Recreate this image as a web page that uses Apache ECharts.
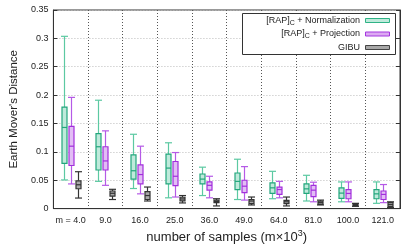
<!DOCTYPE html>
<html>
<head>
<meta charset="utf-8">
<script src="https://cdn.jsdelivr.net/npm/echarts@6/dist/echarts.min.js"></script>
<style>
html,body{margin:0;padding:0;background:#fff;}
#c{width:415px;height:249px;}
</style>
</head>
<body>
<div id="c"></div>
<script>
const categories = ['m = 4.0','9.0','16.0','25.0','36.0','49.0','64.0','81.0','100.0','121.0'];
const yTicks = [0,0.05,0.1,0.15,0.2,0.25,0.3,0.35];
// [lowWhisker, q1, median, q3, highWhisker]
const normData = [
 [0.0505,0.0796,0.143,0.179,0.3036],
 [0.048,0.068,0.109,0.132,0.191],
 [0.0354,0.052,0.0667,0.0946,0.131],
 [0.019,0.0435,0.0714,0.096,0.116],
 [0.023,0.0436,0.052,0.061,0.073],
 [0.016,0.0336,0.048,0.0627,0.087],
 [0.0174,0.0267,0.0366,0.0453,0.0657],
 [0.0134,0.0267,0.0348,0.0436,0.0587],
 [0.012,0.018,0.0273,0.0366,0.047],
 [0.0093,0.0174,0.026,0.0336,0.047]
];
const projData = [
 [0.0435,0.076,0.11,0.145,0.196],
 [0.041,0.068,0.084,0.109,0.137],
 [0.026,0.0435,0.06,0.077,0.11],
 [0.0204,0.0406,0.057,0.083,0.0988],
 [0.019,0.0325,0.041,0.047,0.057],
 [0.015,0.028,0.0395,0.05,0.074],
 [0.019,0.025,0.0336,0.038,0.048],
 [0.012,0.021,0.0325,0.041,0.0465],
 [0.012,0.0174,0.0267,0.0336,0.047],
 [0.0105,0.016,0.025,0.031,0.0424]
];
const gibuData = [
 [0.0186,0.035,0.042,0.049,0.065],
 [0.016,0.022,0.027,0.031,0.034],
 [0.0134,0.016,0.023,0.03,0.038],
 [0.01,0.0135,0.017,0.02,0.023],
 [0.0047,0.0105,0.0127,0.015,0.0174],
 [0.0064,0.0087,0.0134,0.016,0.0204],
 [0.0047,0.0087,0.012,0.0145,0.0204],
 [0.0064,0.0076,0.0105,0.013,0.015],
 [0.004,0.0052,0.007,0.009,0.0093],
 [0.0017,0.0035,0.007,0.0105,0.012]
];

const FONT = '"Liberation Sans", Arial, Helvetica, sans-serif';

function makeRender(offsetFrac, stroke, whisk, fill) {
  return function (params, api) {
    const idx = api.value(0);
    const band = api.size([1, 0])[0];
    const xc = Math.round(api.coord([idx, 0])[0] + offsetFrac * band) + 0.5;
    const y = k => api.coord([idx, api.value(k)])[1];
    const yLo = y(1), yQ1 = y(2), yMed = y(3), yQ3 = y(4), yHi = y(5);
    const bw = Math.round(band * 0.13);
    const cw = Math.round(band * 0.21);
    const ls = {stroke: whisk, lineWidth: 1.2};
    const bs = {stroke: stroke, lineWidth: 1.2};
    return {type: 'group', children: [
      {type: 'line', shape: {x1: xc, y1: yHi, x2: xc, y2: yQ3}, style: ls},
      {type: 'line', shape: {x1: xc, y1: yQ1, x2: xc, y2: yLo}, style: ls},
      {type: 'line', shape: {x1: xc - cw/2, y1: yHi, x2: xc + cw/2, y2: yHi}, style: ls},
      {type: 'line', shape: {x1: xc - cw/2, y1: yLo, x2: xc + cw/2, y2: yLo}, style: ls},
      {type: 'rect', shape: {x: xc - bw/2, y: yQ3, width: bw, height: yQ1 - yQ3}, style: {fill: fill, stroke: stroke, lineWidth: 1.2}},
      {type: 'line', shape: {x1: xc - bw/2, y1: yMed, x2: xc + bw/2, y2: yMed}, style: bs}
    ]};
  };
}

function mkSeries(data, off, stroke, whisk, fill) {
  return {
    type: 'custom',
    renderItem: makeRender(off, stroke, whisk, fill),
    encode: {x: 0, y: [1, 2, 3, 4, 5]},
    data: data.map((d, i) => [i].concat(d)),
    z: 5
  };
}

const chart = echarts.init(document.getElementById('c'), null, {renderer: 'canvas'});
chart.setOption({
  animation: false,
  textStyle: {fontFamily: FONT},
  grid: {left: 48, right: 15, top: 10, bottom: 38, show: true, borderColor: '#333', borderWidth: 1, backgroundColor: 'transparent'},
  xAxis: {
    type: 'category',
    data: categories,
    boundaryGap: true,
    axisLine: {lineStyle: {color: '#333'}},
    axisTick: {show: false},
    axisLabel: {color: '#222', fontSize: 9, margin: 7, fontFamily: FONT, interval: 0},
    splitLine: {show: true, interval: 0, lineStyle: {color: '#555', type: [1, 2], width: 1}},
    name: 'number of samples (m×10{sup|3})',
    nameLocation: 'middle',
    nameGap: 14,
    nameTextStyle: {fontSize: 13, color: '#222', fontFamily: FONT, rich: {sup: {fontSize: 9, verticalAlign: 'top', padding: [0,0,7,0], fontFamily: FONT, color: '#222'}}}
  },
  yAxis: [{
    type: 'value',
    min: 0, max: 0.35, interval: 0.05,
    axisLine: {show: true, lineStyle: {color: '#333'}},
    axisTick: {show: true, inside: true, length: 4, lineStyle: {color: '#333'}},
    axisLabel: {color: '#222', fontSize: 9, margin: 5, fontFamily: FONT, formatter: v => String(+v.toFixed(2))},
    splitLine: {show: true, lineStyle: {color: '#bbb', type: [1, 2], width: 1}},
    name: "Earth Mover's Distance",
    nameLocation: 'middle',
    nameGap: 29,
    nameTextStyle: {fontSize: 11.5, color: '#222', fontFamily: FONT}
  }, {
    type: 'value',
    position: 'right',
    min: 0, max: 0.35, interval: 0.05,
    axisLine: {show: true, lineStyle: {color: '#333'}},
    axisTick: {show: true, inside: true, length: 4, lineStyle: {color: '#333'}},
    axisLabel: {show: false},
    splitLine: {show: false}
  }],
  series: [
    mkSeries(normData, -0.2, '#22a67c', '#5cc9a2', '#bfeadb'),
    mkSeries(projData, 0, '#a22fdc', '#b55ae6', '#e2bdf5'),
    mkSeries(gibuData, 0.2, '#333333', '#333333', '#a8a8a8')
  ],
  graphic: [
    {type: 'rect', z: 100, shape: {x: 242.5, y: 13.5, width: 153, height: 41}, style: {fill: '#fff', stroke: '#333', lineWidth: 1}},
    {type: 'text', z: 101, style: {x: 360, y: 20.5, text: '[RAP]{sub|C} + Normalization', align: 'right', verticalAlign: 'middle', fontSize: 9, fontFamily: FONT, fill: '#222', rich: {sub: {fontSize: 7, fontFamily: FONT, fill: '#222', padding: [5,0,0,0]}}}},
    {type: 'text', z: 101, style: {x: 360, y: 34, text: '[RAP]{sub|C} + Projection', align: 'right', verticalAlign: 'middle', fontSize: 9, fontFamily: FONT, fill: '#222', rich: {sub: {fontSize: 7, fontFamily: FONT, fill: '#222', padding: [5,0,0,0]}}}},
    {type: 'text', z: 101, style: {x: 360, y: 47.5, text: 'GIBU', align: 'right', verticalAlign: 'middle', fontSize: 9, fontFamily: FONT, fill: '#222'}},
    {type: 'rect', z: 101, shape: {x: 365.5, y: 18.5, width: 24, height: 4}, style: {fill: '#bfeadb', stroke: '#2fb386', lineWidth: 1}},
    {type: 'rect', z: 101, shape: {x: 365.5, y: 32, width: 24, height: 4}, style: {fill: '#dcaaf2', stroke: '#a436df', lineWidth: 1}},
    {type: 'rect', z: 101, shape: {x: 365.5, y: 45.5, width: 24, height: 4}, style: {fill: '#a8a8a8', stroke: '#444', lineWidth: 1}}
  ]
});
</script>
</body>
</html>
